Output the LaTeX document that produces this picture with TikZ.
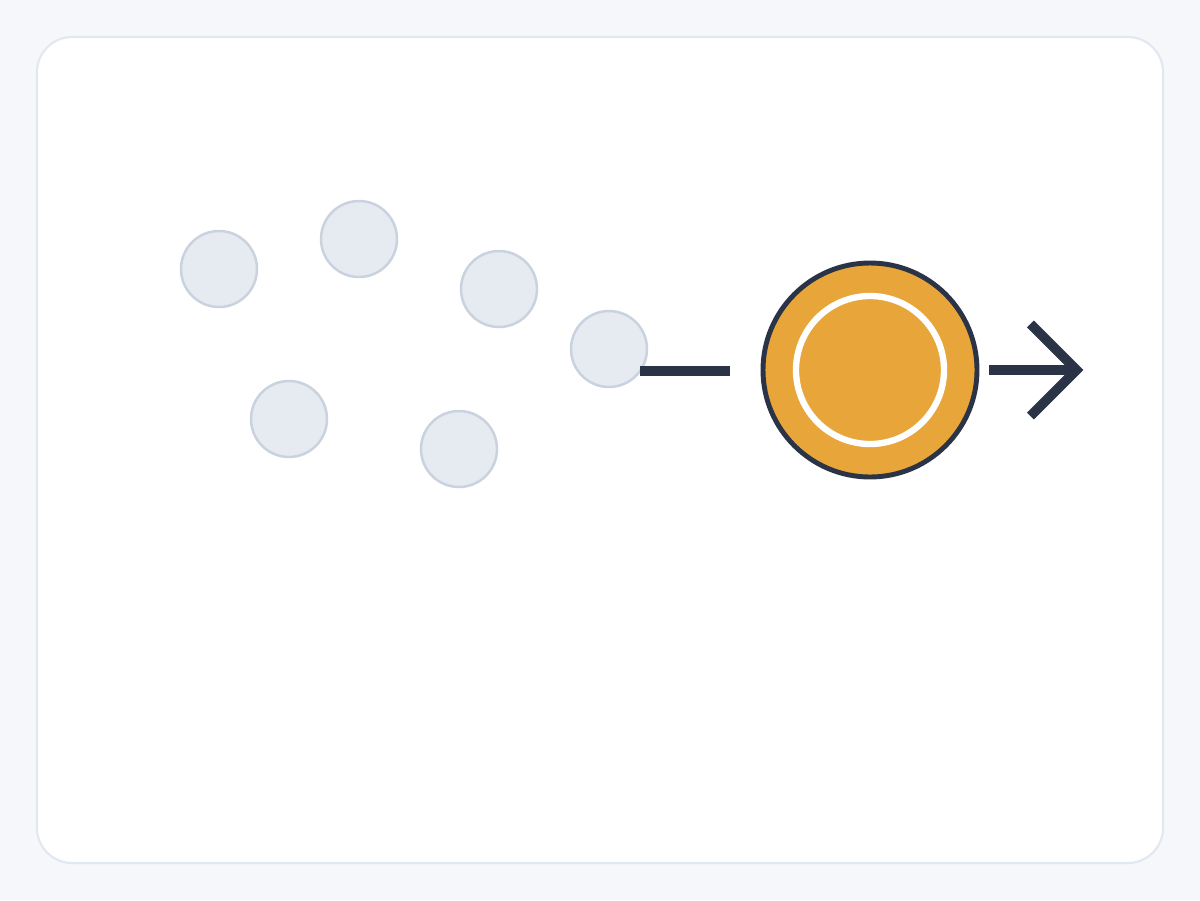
\documentclass[tikz,border=0pt]{standalone}
\usepackage{tikz}
\usetikzlibrary{positioning}
\definecolor{bgcol}{HTML}{F5F7FA}
\definecolor{cardline}{HTML}{E2E8F0}
\definecolor{dotfill}{HTML}{E6EBF2}
\definecolor{dotline}{HTML}{C9D2DE}
\definecolor{ink}{HTML}{2B3447}
\definecolor{gold}{HTML}{E8A63A}
\tikzset{bubble/.style={circle,draw=dotline,fill=dotfill,line width=1.4pt,minimum size=76*0.02cm,inner sep=0pt},
         hub/.style={circle,draw=ink,fill=gold,line width=2.8pt,minimum size=214*0.02cm,inner sep=0pt},
         ring/.style={circle,draw=white,line width=3.6pt,minimum size=148*0.02cm,inner sep=0pt}
}
\tikzstyle{link} = [ink,line width=5.6pt]
\begin{document}
\begin{tikzpicture}[x=0.02cm,y=-0.02cm]

\fill[bgcol] (0,0) rectangle (1200,900);
\draw[cardline,fill=white,line width=1.2pt,rounded corners=20pt] (37,37) rectangle (1163,863);

\node[bubble] (b1) at (219,269) {};
\node[bubble] (b2) at (359,239) {};
\node[bubble] (b3) at (499,289) {};
\node[bubble] (b4) at (609,349) {};
\node[bubble] (b5) at (289,419) {};
\node[bubble] (b6) at (459,449) {};

\node[hub] (hub) at (870,370) {};
\node[ring] (core) at (hub) {};

\coordinate (in) at (640,371);
\coordinate[left=31*0.02cm of hub.west] (stop);
\coordinate[right=10*0.02cm of hub.east] (out);
\coordinate[right=87*0.02cm of out] (tip);

\draw[link] (in)--(in-|stop);
\draw[link] (out)--(tip);
\draw[link,miter limit=4] (tip)++(-46,-46)--(tip)--++(-46,46);

\end{tikzpicture}
\end{document}
